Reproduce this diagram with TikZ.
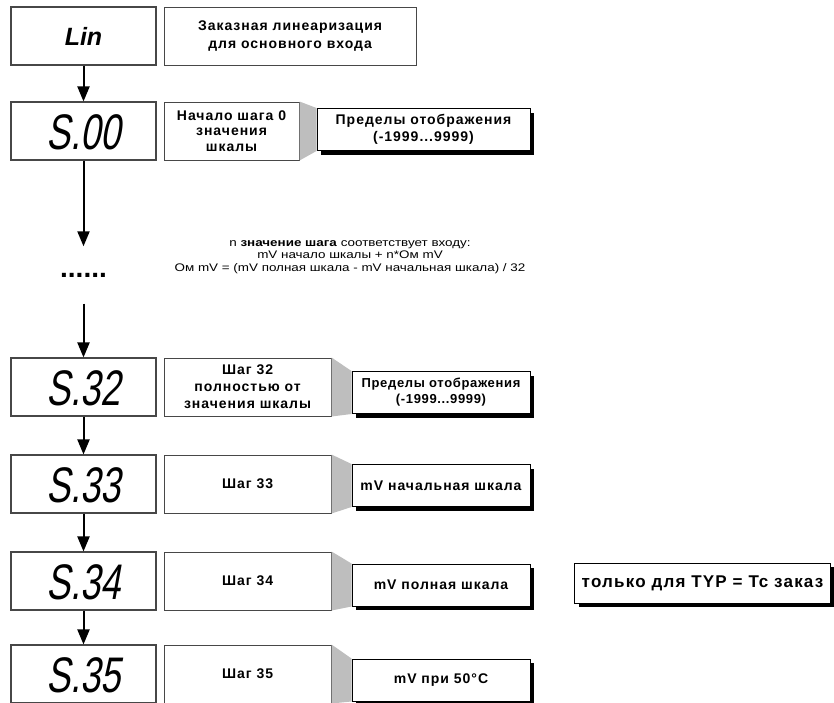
\documentclass[tikz,border=0pt]{standalone}
\usepackage{fontspec}
\setmainfont{Liberation Sans}
\newfontfamily\segfont[FakeSlant=0.18,FakeStretch=0.72]{Liberation Sans}
\newfontfamily\notefont[FakeStretch=1.22]{Liberation Sans}
\usetikzlibrary{arrows.meta,positioning,shadows}
\definecolor{frame}{HTML}{474747}
\definecolor{wedge}{HTML}{BEBEBE}
\newcommand\boxfont{\fontsize{14}{17}\selectfont\bfseries\addfontfeature{LetterSpace=7}}
\tikzset{display/.style={draw=frame,line width=1.1pt,fill=white,minimum width=145pt,
  minimum height=58pt,inner sep=0pt,text height=36pt,text depth=0pt,
  font=\segfont\fontsize{50}{50}\selectfont},
  desc/.style={draw=frame,line width=1pt,fill=white,minimum height=58pt,
  align=center,inner sep=0pt,font=\boxfont},
  limits/.style={draw=black,line width=1pt,fill=white,align=center,inner sep=0pt,
  minimum height=42pt,font=\boxfont,
  drop shadow={shadow xshift=4pt,shadow yshift=-4pt,fill=black,opacity=1}},
  wedgefill/.style={fill=wedge},
  flow/.style={-{Triangle[length=15pt,width=12pt]},line width=2pt}}

\begin{document}
\begin{tikzpicture}[x=1pt,y=-1pt]
\useasboundingbox (0,0) rectangle (834,702);
% left column: display values
\node[display,text height=18pt,font=\bfseries\itshape\fontsize{25}{25}\selectfont] (lin) at (83.5,36) {Lin};
\node[display] (s00) at (83.5,131) {S.00};
\node[font=\bfseries\fontsize{28}{28}\selectfont,minimum height=57pt,inner sep=0pt] (dots) at (83.5,275) {......};
\node[display] (s32) at (83.5,387) {S.32};
\node[display] (s33) at (83.5,484) {S.33};
\node[display] (s34) at (83.5,581) {S.34};
\node[display] (s35) at (83.5,674) {S.35};
% descriptions
\node[desc,minimum width=252pt,right=7pt of lin,font=\boxfont\linespread{1.08}\selectfont] (d0) {Заказная линеаризация\\для основного входа};
\node[desc,minimum width=135pt,right=7pt of s00,font=\boxfont\linespread{0.9}\selectfont] (d00) {Начало шага 0\\значения\\шкалы};
\node[desc,minimum width=167pt,right=7pt of s32] (d32) {Шаг 32\\полностью от\\значения шкалы};
\node[desc,minimum width=167pt,right=7pt of s33] (d33) {Шаг 33};
\node[desc,minimum width=167pt,right=7pt of s34] (d34) {Шаг 34};
\node[desc,minimum width=167pt,right=7pt of s35] (d35) {Шаг 35};
% limits
\node[limits,minimum width=213pt] (r00) at (423.5,129.5) {Пределы отображения\\(-1999...9999)};
\node[limits,minimum width=178pt,font=\boxfont\fontsize{13}{16}\selectfont\addfontfeature{LetterSpace=5}] (r32) at (441,392.5) {Пределы отображения\\(-1999...9999)};
\node[limits,minimum width=178pt] (r33) at (441,485.5) {mV начальная шкала};
\node[limits,minimum width=178pt] (r34) at (441,585) {mV полная шкала};
\node[limits,minimum width=178pt] (r35) at (441,680) {mV при 50°C};
\node[limits,minimum width=256pt,minimum height=40pt,font=\boxfont\fontsize{17}{20}\selectfont] (typ) at (702.5,583) {только для TYP = Tc заказ};
% wedges
\foreach \d/\r in {d00/r00,d32/r32,d33/r33,d34/r34,d35/r35}
  \fill[wedgefill] (\d.north east) -- (\r.north west) -- (\r.south west) -- (\d.south east) -- cycle;
\node[align=center,font=\notefont\fontsize{11}{12.5}\selectfont] (note) at (350,257)
  {n \textbf{значение шага} соответствует входу:\\mV начало шкалы + n*Ом mV\\Ом mV = (mV полная шкала - mV начальная шкала) / 32};
\draw[flow] (lin) -- (s00);
\draw[flow] (s00) -- (dots);
\draw[flow] (dots) -- (s32);
\draw[flow] (s32) -- (s33);
\draw[flow] (s33) -- (s34);
\draw[flow] (s34) -- (s35);
\end{tikzpicture}
\end{document}
